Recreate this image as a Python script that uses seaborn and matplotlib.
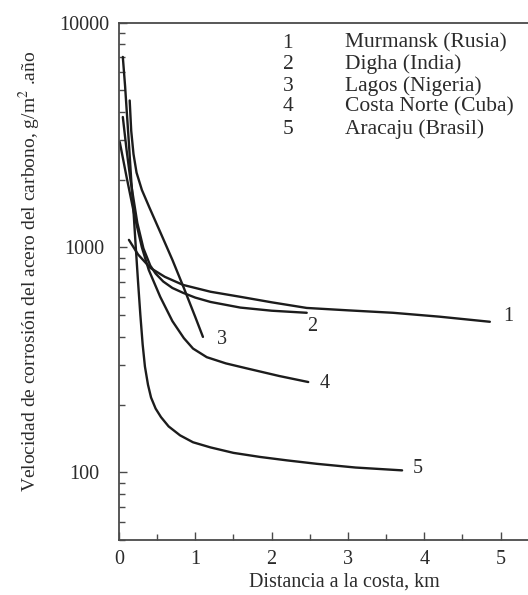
import matplotlib
matplotlib.use("Agg")
import matplotlib.pyplot as plt
import matplotlib.ticker as mticker
import numpy as np
import pandas as pd
import seaborn as sns

# ---------------- data ----------------
stations = ["Murmansk (Rusia)", "Digha (India)", "Lagos (Nigeria)",
            "Costa Norte (Cuba)", "Aracaju (Brasil)"]
numbers = ["1", "2", "3", "4", "5"]

x1 = [0.13, 0.25, 0.41, 0.6, 0.84, 1.2, 1.59, 2.0, 2.46, 3.0, 3.59, 4.2, 4.86]
y1 = [1080, 930, 811, 740, 681, 635, 603, 570, 538, 525, 512, 492, 467]

x2 = [0.05, 0.1, 0.15, 0.24, 0.32, 0.41, 0.48, 0.58, 0.7, 0.84, 1.0, 1.2,
      1.59, 2.0, 2.46]
y2 = [3800, 2700, 2000, 1285, 990, 830, 765, 705, 660, 628, 598, 572,
      540, 523, 512]

x3 = [0.14, 0.16, 0.19, 0.23, 0.3, 0.4, 0.55, 0.7, 0.85, 1.0, 1.1]
y3 = [4500, 3300, 2600, 2150, 1800, 1500, 1150, 880, 660, 490, 400]

x4 = [0.01, 0.1, 0.2, 0.3, 0.39, 0.54, 0.7, 0.85, 0.97, 1.15, 1.4, 1.67,
      2.1, 2.48]
y4 = [2940, 2050, 1400, 1000, 794, 603, 470, 395, 355, 325, 305, 290,
      268, 252]

x5 = [0.05, 0.08, 0.1, 0.13, 0.16, 0.19, 0.22, 0.25, 0.28, 0.31, 0.34, 0.38,
      0.42, 0.48, 0.55, 0.65, 0.8, 0.97, 1.2, 1.5, 1.85, 2.2, 2.6, 3.1, 3.71]
y5 = [7030, 5200, 4100, 2900, 2000, 1450, 1000, 700, 500, 370, 295, 245,
      215, 192, 176, 160, 146, 136, 129, 122, 117, 113, 109, 105, 102]

# curve-end label anchors (data coords)
label_x = [5.1, 2.53, 1.35, 2.70, 3.91]
label_y = [491, 443, 388, 247, 104]

xs = [x1, x2, x3, x4, x5]
ys = [y1, y2, y3, y4, y5]

rows = []
for st, xx, yy in zip(stations, xs, ys):
    for a, b in zip(xx, yy):
        rows.append((st, a, b))
df = pd.DataFrame(rows, columns=["station", "x", "y"])

# ---------------- style ----------------
sns.set_style("ticks")
plt.rcParams["font.family"] = ["Liberation Serif", "DejaVu Serif"]
plt.rcParams["mathtext.fontset"] = "stix"
txt = "#2b2b2b"
axc = "#4a4a4a"

fig = plt.figure(figsize=(5.28, 5.95), dpi=100)
ax = fig.add_axes([119 / 528, 55 / 595, 409 / 528, 517.5 / 595])

sns.lineplot(data=df, x="x", y="y", hue="station", hue_order=stations,
             palette=["#1c1c1c"] * 5, legend=False, sort=False,
             estimator=None, linewidth=1.7, ax=ax)

ax.set_yscale("log")
ax.set_xlim(0, 5.36)
ax.set_ylim(50, 10000)

ax.xaxis.set_major_locator(mticker.MultipleLocator(1))
ax.xaxis.set_minor_locator(mticker.MultipleLocator(0.5))
ax.yaxis.set_major_locator(mticker.FixedLocator([100, 1000, 10000]))
ax.yaxis.set_major_formatter(mticker.FixedFormatter(["100", "1000", "10000"]))
ax.yaxis.set_minor_locator(mticker.LogLocator(base=10, subs=np.arange(2, 10)))
ax.yaxis.set_minor_formatter(mticker.NullFormatter())

ax.tick_params(which="both", direction="in", color=axc, width=1.0,
               labelcolor=txt, labelsize=14.5)
ax.tick_params(which="major", length=6)
ax.tick_params(which="minor", length=4)
ax.tick_params(axis="x", pad=7)
ax.tick_params(axis="y", pad=25)
for lab in ax.get_yticklabels():
    lab.set_horizontalalignment("center")

for s in ["left", "bottom", "top"]:
    ax.spines[s].set_color(axc)
    ax.spines[s].set_linewidth(1.3)
ax.spines["right"].set_visible(False)

ax.set_xlabel("Distancia a la costa, km", fontsize=14.5, color=txt)
ax.xaxis.set_label_coords(0.55, -0.062)
ax.set_ylabel("Velocidad de corrosión del acero del carbono, g/m$^{2}$ .año",
              fontsize=14, color=txt)
ax.yaxis.set_label_coords(-0.186, 0.52)

# curve numbers
for n, lx, ly in zip(numbers, label_x, label_y):
    ax.text(lx, ly, n, fontsize=14.5, color=txt, ha="center", va="center")

# key in upper part
key_y = [0.960, 0.919, 0.877, 0.837, 0.794]
for n, st, ky in zip(numbers, stations, key_y):
    ax.text(0.413, ky, n, transform=ax.transAxes, fontsize=15.5, color=txt,
            ha="center", va="center")
    ax.text(0.553, ky, st, transform=ax.transAxes, fontsize=15.5, color=txt,
            ha="left", va="center")

fig.savefig("out.png", dpi=100)
